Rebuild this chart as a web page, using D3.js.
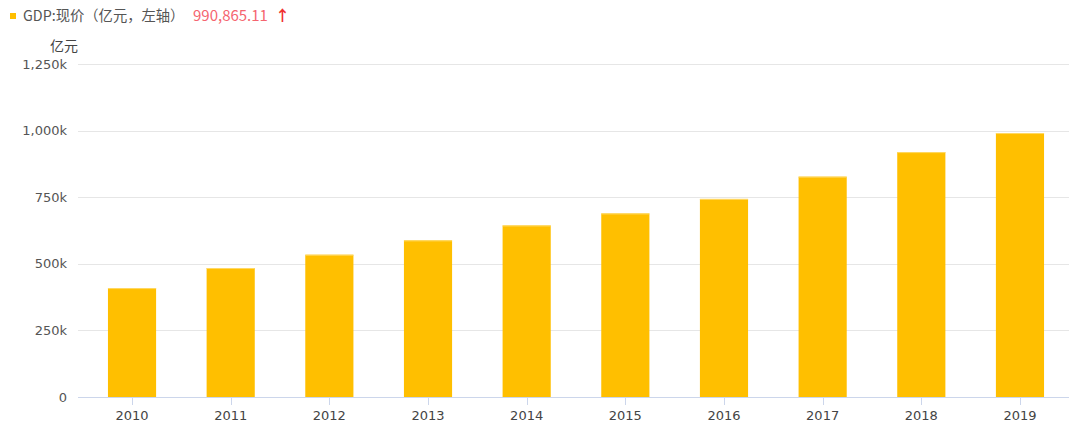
<!DOCTYPE html>
<html><head><meta charset="utf-8">
<script src="https://cdn.jsdelivr.net/npm/d3@7"></script>
<style>body{margin:0;background:#fff;}svg{display:block;}</style>
</head><body>
<svg id="c" width="1080" height="426"></svg>
<script>
const years = ["2010","2011","2012","2013","2014","2015","2016","2017","2018","2019"];
const gdp = [408903, 484124, 534123, 588019, 643974, 689052, 743586, 827122, 919281, 990865.11];
const yTicks = [0, 250000, 500000, 750000, 1000000, 1250000];
const yTickLabels = ["0","250k","500k","750k","1,000k","1,250k"];
const seriesName = "GDP:现价（亿元，左轴）";
const latestLabel = "990,865.11";
const unitLabel = "亿元";

const svg = d3.select("#c");
const font = "'DejaVu Sans', 'Noto Sans CJK SC', sans-serif";
const cjk = "'Noto Sans CJK SC', 'DejaVu Sans', sans-serif";
const left = 78, right = 1069;
const x = d3.scaleBand().domain(years).range([82.7, 1069.3]).paddingInner(0.512).paddingOuter(0.256);
const y = d3.scaleLinear().domain([0, 1250000]).range([397, 64]);

// gridlines
svg.append("g").selectAll("line").data(yTicks.slice(1)).join("line")
  .attr("x1", left).attr("x2", right)
  .attr("y1", d => Math.round(y(d)) + 0.5).attr("y2", d => Math.round(y(d)) + 0.5)
  .attr("stroke", "#e6e6e6").attr("stroke-width", 1);

// y labels
svg.append("g").selectAll("text").data(yTicks).join("text")
  .attr("x", 67).attr("y", d => y(d) + 4.5)
  .attr("text-anchor", "end").attr("font-family", font).attr("font-size", 13)
  .attr("fill", "#555").text((d, i) => yTickLabels[i]);

// bars
svg.append("g").selectAll("rect").data(years).join("rect")
  .attr("x", d => x(d)).attr("width", x.bandwidth())
  .attr("y", (d, i) => y(gdp[i])).attr("height", (d, i) => y(0) - y(gdp[i]))
  .attr("fill", "#FFBF00");
svg.append("g").selectAll("line").data(years).join("line")
  .attr("x1", d => x(d)).attr("x2", d => x(d) + x.bandwidth())
  .attr("y1", (d, i) => y(gdp[i]) + 0.5).attr("y2", (d, i) => y(gdp[i]) + 0.5)
  .attr("stroke", "#ffd966").attr("stroke-width", 1);

// x axis
const xa = svg.append("g").attr("transform", "translate(0,397)");
xa.append("line").attr("x1", left).attr("x2", right).attr("y1", 0.5).attr("y2", 0.5)
  .attr("stroke", "#ccd6eb").attr("stroke-width", 1);
xa.selectAll("line.t").data(years).join("line").attr("class", "t")
  .attr("x1", d => Math.round(x(d) + x.bandwidth() / 2) + 0.5)
  .attr("x2", d => Math.round(x(d) + x.bandwidth() / 2) + 0.5)
  .attr("y1", 0).attr("y2", 8).attr("stroke", "#ccd6eb");
xa.selectAll("text").data(years).join("text")
  .attr("x", d => x(d) + x.bandwidth() / 2).attr("y", 23)
  .attr("text-anchor", "middle").attr("font-family", font).attr("font-size", 13)
  .attr("fill", "#444").text(d => d);

// unit label
svg.append("text").attr("x", 50).attr("y", 51).attr("font-family", cjk).attr("font-size", 14)
  .attr("fill", "#444").text(unitLabel);

// legend
svg.append("rect").attr("x", 10).attr("y", 13).attr("width", 6).attr("height", 6).attr("fill", "#FFBF00");
svg.append("text").attr("x", 23).attr("y", 21).attr("font-family", cjk).attr("font-size", 14.3).attr("fill", "#555")
  .text(seriesName);
svg.append("text").attr("x", 193).attr("y", 21).attr("font-family", cjk).attr("font-size", 15)
  .attr("fill", "#f5656f").text(latestLabel);
svg.append("text").attr("x", 275).attr("y", 21).attr("font-family", cjk).attr("font-size", 15)
  .attr("font-weight", "bold").attr("fill", "#f03030").text("↑");
</script>
</body></html>
